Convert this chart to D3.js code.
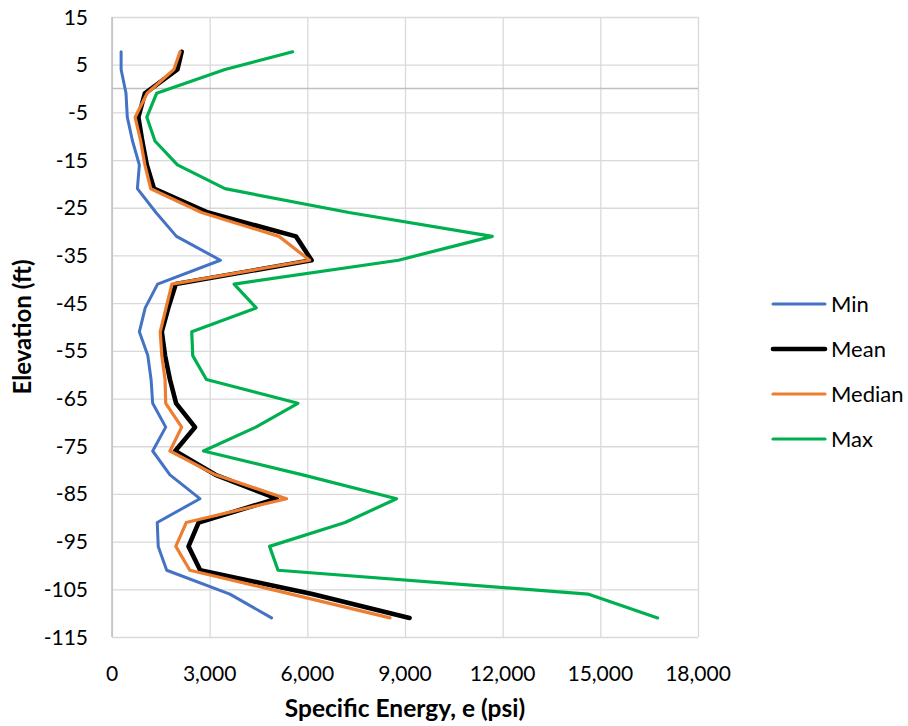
<!DOCTYPE html>
<html>
<head>
<meta charset="utf-8">
<script src="https://cdn.jsdelivr.net/npm/d3@7/dist/d3.min.js"></script>
<style>
	body { margin: 0; background: #fff; }
	svg text { font-family: Lato, "Open Sans", sans-serif; fill: #000; }
</style>
</head>
<body>
<svg id="chart" width="908" height="726"></svg>
<script>
// elevation of each reading (ft), shared by all four series
const elevation = [7.7, 4, -1, -6, -11, -16, -21, -26, -31, -36, -41, -46, -51, -56, -61, -66, -71, -76, -81, -86, -91, -96, -101, -106, -111];

// specific energy, psi
const minVals = [280, 280, 430, 470, 630, 840, 780, 1350, 1980, 3330, 1400, 1020, 840, 1100, 1200, 1250, 1650, 1250, 1780, 2700, 1390, 1420, 1680, 3620, 4900];
const meanVals = [2140, 2010, 1010, 810, 930, 1070, 1290, 2950, 5650, 6130, 1960, 1730, 1530, 1630, 1780, 1970, 2550, 1940, 3180, 5060, 2660, 2350, 2710, 6150, 9140];
const medianVals = [2090, 1900, 1080, 710, 880, 1010, 1190, 2750, 5130, 6070, 1840, 1660, 1480, 1530, 1630, 1650, 2140, 1780, 3180, 5360, 2280, 1960, 2390, 5500, 8540];
const maxVals = [5550, 3470, 1370, 1070, 1320, 2010, 3470, 7280, 11680, 8800, 3750, 4430, 2450, 2480, 2900, 5710, 4420, 2810, 5860, 8740, 7160, 4840, 5100, 14620, 16760];

const seriesNames = ["Min", "Mean", "Median", "Max"];
const seriesColors = ["#4472c4", "#000000", "#ed7d31", "#00b050"];
const seriesWidths = [3, 4.6, 3.2, 3.2];

const xTicks = [0, 3000, 6000, 9000, 12000, 15000, 18000];
const yTicks = [15, 5, -5, -15, -25, -35, -45, -55, -65, -75, -85, -95, -105, -115];

const svg = d3.select("#chart");

const x = d3.scaleLinear().domain([0, 18000]).range([112, 698]);
const y = d3.scaleLinear().domain([15, -115]).range([17, 637]);

// gridlines
svg.append("g")
	.attr("transform", "translate(0,637)")
	.call(d3.axisBottom(x).tickValues(xTicks).tickSize(-620).tickFormat(""))
	.call(g => g.select(".domain").remove())
	.selectAll("line").attr("stroke", "#d9d9d9").attr("stroke-width", 1.3);

svg.append("g")
	.attr("transform", "translate(112,0)")
	.call(d3.axisLeft(y).tickValues(yTicks).tickSize(-586).tickFormat(""))
	.call(g => g.select(".domain").remove())
	.selectAll("line").attr("stroke", "#d9d9d9").attr("stroke-width", 1.3);

// axis lines: vertical value axis and horizontal axis crossing at 0
svg.append("line")
	.attr("x1", x(0)).attr("x2", x(0)).attr("y1", y(15)).attr("y2", y(-115))
	.attr("stroke", "#bfbfbf").attr("stroke-width", 1.5);
svg.append("line")
	.attr("x1", x(0)).attr("x2", x(18000)).attr("y1", y(0)).attr("y2", y(0))
	.attr("stroke", "#bfbfbf").attr("stroke-width", 1.5);

// tick labels
svg.append("g")
	.selectAll("text")
	.data(xTicks)
	.join("text")
	.attr("x", d => x(d))
	.attr("y", 681)
	.attr("text-anchor", "middle")
	.attr("font-size", 21)
	.text(d => d3.format(",")(d));

svg.append("g")
	.selectAll("text")
	.data(yTicks)
	.join("text")
	.attr("x", 88)
	.attr("y", d => y(d))
	.attr("dy", "0.36em")
	.attr("text-anchor", "end")
	.attr("font-size", 21)
	.text(d => d);

// axis titles
svg.append("text")
	.attr("x", 405)
	.attr("y", 717)
	.attr("text-anchor", "middle")
	.attr("font-size", 24.5)
	.attr("font-weight", "bold")
	.text("Specific Energy, e (psi)");

svg.append("text")
	.attr("transform", "translate(31,327) rotate(-90)")
	.attr("text-anchor", "middle")
	.attr("font-size", 24)
	.attr("font-weight", "bold")
	.text("Elevation (ft)");

// series
const allVals = [minVals, meanVals, medianVals, maxVals];
const line = d3.line()
	.x(d => x(d.v))
	.y(d => y(d.e));

allVals.forEach((vals, i) => {
	const pts = vals.map((v, k) => ({ v, e: elevation[k] }));
	svg.append("path")
		.datum(pts)
		.attr("d", line)
		.attr("fill", "none")
		.attr("stroke", seriesColors[i])
		.attr("stroke-width", seriesWidths[i])
		.attr("stroke-linejoin", "round")
		.attr("stroke-linecap", "round");
});

// legend
const legend = svg.append("g")
	.selectAll("g")
	.data(seriesNames)
	.join("g")
	.attr("transform", (d, i) => `translate(0,${304 + i * 45})`);

legend.append("line")
	.attr("x1", 773).attr("x2", 825)
	.attr("stroke", (d, i) => seriesColors[i])
	.attr("stroke-width", (d, i) => seriesWidths[i])
	.attr("stroke-linecap", "round");

legend.append("text")
	.attr("x", 831)
	.attr("dy", "0.36em")
	.attr("font-size", 22)
	.text(d => d);
</script>
</body>
</html>
